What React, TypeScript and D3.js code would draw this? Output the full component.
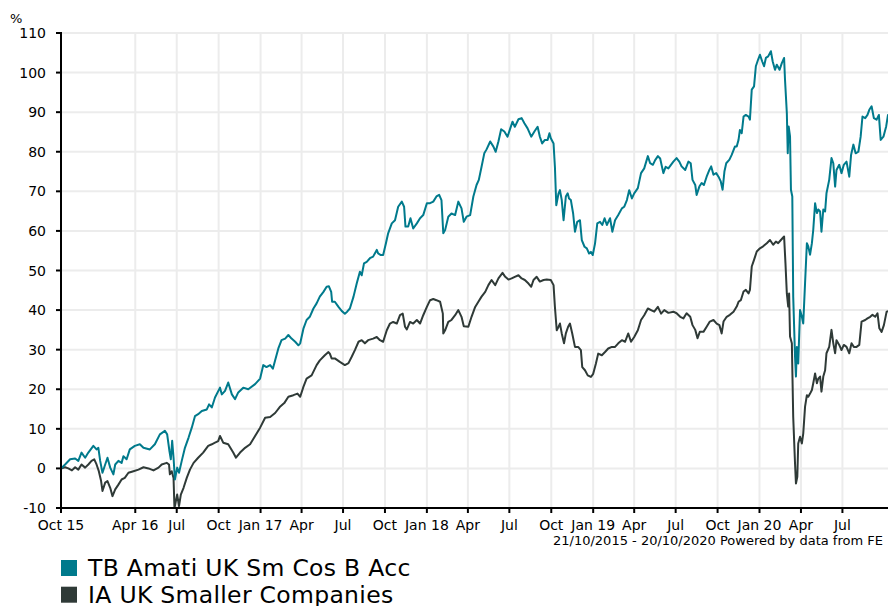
import * as React from 'react'
import * as d3 from 'd3'

const WIDTH = 888
const HEIGHT = 606
const PLOT_LEFT = 61
const PLOT_RIGHT = 893
const PLOT_TOP = 33
const PLOT_BOTTOM = 508
const FONT = '"DejaVu Sans", Verdana, sans-serif'

const FUND_COLOR = '#007a8c'
const SECTOR_COLOR = '#2f3a37'
const GRID_COLOR = '#ececec'

const startDate = new Date(2015, 9, 21)
const endDate = new Date(2020, 9, 20)

const seriesNames = ['TB Amati UK Sm Cos B Acc', 'IA UK Smaller Companies']

const yTicks = [-10, 0, 10, 20, 30, 40, 50, 60, 70, 80, 90, 100, 110]

const xTickDates = [
  '2015-10-21', '2016-04-01', '2016-07-01', '2016-10-01', '2017-01-01',
  '2017-04-01', '2017-07-01', '2017-10-01', '2018-01-01', '2018-04-01',
  '2018-07-01', '2018-10-01', '2019-01-01', '2019-04-01', '2019-07-01',
  '2019-10-01', '2020-01-01', '2020-04-01', '2020-07-01'
]
const xTickLabels = [
  'Oct 15', 'Apr 16', 'Jul', 'Oct', 'Jan 17', 'Apr', 'Jul', 'Oct', 'Jan 18',
  'Apr', 'Jul', 'Oct', 'Jan 19', 'Apr', 'Jul', 'Oct', 'Jan 20', 'Apr', 'Jul'
]

// days since 21/10/2015, cumulative % growth
const fundDays = [
  0, 9, 20, 31, 38, 45, 53, 60, 71, 78, 82, 86, 91, 97, 102, 108, 115, 119,
  126, 133, 137, 144, 151, 162, 173, 181, 195, 206, 217, 228, 233, 238, 241,
  244, 247, 250, 255, 259, 265, 272, 280, 287, 294, 301, 309, 320, 325, 331,
  338, 349, 353, 360, 367, 375, 382, 389, 400, 411, 426, 437, 444, 451, 459,
  465, 470, 477, 484, 492, 499, 506, 514, 521, 525, 532, 539, 546, 554, 561,
  568, 576, 583, 588, 593, 595, 601, 609, 616, 623, 628, 634, 642, 649, 656,
  660, 665, 671, 678, 685, 693, 696, 702, 707, 713, 718, 726, 733, 740, 748,
  753, 756, 762, 767, 773, 781, 788, 795, 803, 810, 817, 824, 830, 835, 839,
  843, 850, 857, 865, 872, 879, 884, 890, 898, 905, 912, 917, 923, 929, 934,
  942, 949, 954, 960, 966, 973, 980, 986, 991, 996, 1004, 1011, 1017, 1024,
  1032, 1039, 1046, 1051, 1056, 1062, 1068, 1072, 1075, 1081, 1084, 1087,
  1092, 1095, 1099, 1103, 1108, 1112, 1115, 1119, 1124, 1128, 1133, 1139,
  1143, 1149, 1154, 1159, 1163, 1167, 1172, 1177, 1183, 1188, 1193, 1198,
  1205, 1210, 1216, 1223, 1231, 1236, 1242, 1247, 1253, 1258, 1266, 1273,
  1280, 1288, 1293, 1299, 1304, 1310, 1315, 1322, 1327, 1333, 1344, 1351,
  1357, 1362, 1370, 1377, 1382, 1386, 1392, 1395, 1401, 1406, 1411, 1417,
  1423, 1427, 1432, 1438, 1443, 1448, 1452, 1456, 1460, 1467, 1472, 1479,
  1483, 1487, 1490, 1494, 1498, 1503, 1509, 1512, 1516, 1521, 1525, 1530,
  1534, 1539, 1543, 1547, 1552, 1558, 1562, 1567, 1571, 1577, 1582, 1587,
  1589, 1593, 1595, 1597, 1600, 1602, 1605, 1607, 1611, 1613, 1615, 1618,
  1622, 1626, 1629, 1633, 1637, 1640, 1644, 1648, 1651, 1655, 1659, 1662,
  1666, 1669, 1673, 1677, 1680, 1686, 1691, 1695, 1699, 1702, 1708, 1713,
  1718, 1724, 1730, 1734, 1739, 1744, 1750, 1755, 1759, 1765, 1770, 1774,
  1779, 1784, 1790, 1795, 1799, 1805, 1811, 1815, 1826
]
const fundValues = [
  0, 1, 2.3, 2.5, 1.9, 4, 2.7, 4, 5.7, 4.8, 5.2, 1.9, -1.1, 1, 2.7, 0.2, -1.5,
  1, 1.9, 1.4, 3.1, 2.3, 4.8, 5.7, 6.1, 5.2, 4.8, 6.1, 8.6, 9.5, 8.6, 4.4, 2.3,
  7, 2.7, -2.8, 0.2, -1.1, 1.9, 5.2, 7.8, 10.3, 13.2, 13.7, 14.5, 14.9, 16.2,
  15.4, 17.9, 20.4, 18.7, 19.6, 21.7, 18.7, 17.5, 19.2, 20.4, 20, 21.3, 22.7,
  26.1, 25.6, 26.1, 25.2, 27.3, 30.3, 32.4, 32.8, 33.7, 32.8, 32, 31.1, 31.6,
  35.3, 37.5, 38.3, 40.4, 41.7, 43.4, 44.6, 45.9, 46, 44.6, 42.1, 42.1, 40.8,
  39.8, 39.1, 39.6, 40.4, 43.4, 46.7, 49.7, 48.8, 51.8, 52.2, 53.1, 53.5, 55.2,
  54.3, 53.9, 53.9, 56.8, 59.4, 61.9, 62.7, 66.1, 67.4, 66.1, 61.1, 61.1, 63.2,
  60.6, 61.9, 63.2, 64, 67, 67, 67.4, 68.7, 69.1, 67.8, 59.4, 60.2, 63.6, 64.4,
  64, 67.4, 65.7, 62.3, 63.6, 64, 68.7, 71.6, 72.9, 76.2, 79.6, 80.6, 82.6,
  81.3, 80, 82.6, 85.7, 85.1, 83.8, 85.9, 87.6, 86.3, 88.2, 88.5, 87.2, 85.9,
  83.8, 85.1, 86.3, 83.8, 82.1, 83, 83, 84.7, 83.4, 82.1, 76.2, 66.5, 69.5,
  70.3, 67.8, 62.7, 68.7, 69.5, 68.2, 67.8, 64.4, 59.8, 62.3, 62.7, 57.7, 56,
  55.6, 54.3, 54.7, 53.9, 56.8, 61.9, 62.3, 61.5, 63.2, 61.5, 63.2, 59.8, 62.7,
  64, 65.7, 66.1, 67.8, 70.3, 68.2, 69.5, 70.8, 74.6, 75.8, 78.9, 77.1, 76.7,
  77.9, 78.9, 78.3, 74.6, 76.2, 75.8, 77.5, 78.4, 77.5, 76.3, 75.4, 77.5, 77.1,
  72.9, 71.6, 69.1, 71.2, 72.1, 71.6, 73.7, 75.4, 76.3, 74.2, 74.6, 73.7, 72.5,
  70.4, 75, 77.1, 78, 79.2, 81.3, 81.3, 83, 85.5, 84.7, 88.9, 89.3, 88.9, 88.1,
  95.7, 96.5, 101.6, 103.3, 104.5, 102.8, 101.6, 103.7, 104.1, 105.4, 102.8,
  100.7, 102, 100.7, 102.4, 103.7, 98.2, 89.8, 79.6, 86.4, 83.9, 70.4, 68.7,
  43.4, 28.2, 23.2, 30.7, 26.5, 40, 38.3, 36.6, 46.8, 56.9, 56.1, 54, 56.9,
  60.3, 67, 64.5, 65.4, 64.9, 59.8, 65.4, 64.9, 69.5, 72.9, 78.4, 77.1, 71.2,
  75.4, 76.7, 74.6, 76.7, 77.5, 73.7, 79.2, 81.8, 79.6, 80, 83.8, 88.9, 88.5,
  89.3, 90.6, 91.5, 88.5, 88.1, 89.3, 83, 83.8, 86.4, 89.3, 89
]

const sectorDays = [
  0, 9, 16, 24, 31, 38, 45, 53, 60, 67, 73, 78, 83, 88, 91, 97, 102, 108, 113,
  119, 126, 133, 140, 148, 159, 170, 181, 192, 203, 214, 221, 232, 237, 239,
  243, 247, 249, 252, 255, 259, 263, 269, 276, 283, 291, 301, 312, 323, 331,
  338, 345, 349, 356, 367, 378, 384, 393, 404, 415, 426, 437, 448, 459, 470,
  480, 490, 499, 510, 519, 525, 532, 539, 550, 561, 568, 579, 587, 590, 594,
  601, 612, 623, 631, 638, 645, 653, 660, 667, 674, 685, 693, 700, 707, 715,
  722, 729, 737, 744, 750, 755, 759, 766, 773, 781, 788, 795, 803, 810, 817,
  824, 832, 838, 839, 843, 850, 857, 865, 872, 879, 884, 894, 901, 909, 916,
  923, 931, 938, 945, 953, 960, 969, 975, 982, 989, 996, 1004, 1011, 1018,
  1026, 1032, 1037, 1044, 1051, 1059, 1066, 1075, 1081, 1084, 1088, 1092,
  1095, 1099, 1104, 1108, 1113, 1117, 1122, 1128, 1135, 1141, 1144, 1150,
  1156, 1163, 1168, 1174, 1179, 1187, 1194, 1201, 1209, 1216, 1223, 1231,
  1238, 1245, 1251, 1258, 1266, 1273, 1280, 1288, 1295, 1302, 1310, 1317,
  1324, 1333, 1344, 1351, 1359, 1366, 1373, 1381, 1386, 1392, 1397, 1402,
  1410, 1417, 1424, 1432, 1439, 1445, 1450, 1454, 1461, 1468, 1476, 1483,
  1487, 1492, 1498, 1503, 1509, 1512, 1516, 1521, 1527, 1534, 1541, 1549,
  1556, 1563, 1569, 1574, 1580, 1587, 1590, 1593, 1596, 1598, 1600, 1604,
  1607, 1611, 1613, 1616, 1618, 1622, 1626, 1629, 1633, 1637, 1640, 1644,
  1648, 1651, 1655, 1659, 1662, 1666, 1669, 1673, 1677, 1680, 1686, 1691,
  1695, 1699, 1702, 1708, 1713, 1718, 1724, 1730, 1735, 1740, 1746, 1752,
  1757, 1765, 1770, 1776, 1781, 1787, 1792, 1796, 1801, 1806, 1812, 1826
]
const sectorValues = [
  0, 0.3, 0, -0.5, 0.3, -0.3, 1, 0.2, 1, 1.9, 2.3, 1, -0.7, -3.2, -5.7, -3.6,
  -3.2, -4.9, -7, -5.3, -4.1, -2.8, -2.4, -1.1, -0.7, -0.3, 0.3, 0, -0.5, 0.2,
  1, 1.4, 1, -1.5, -0.7, -2.4, -10, -8.3, -6.6, -9.5, -6.6, -4.9, -2.4, -0.3,
  1.4, 2.7, 4, 5.7, 6.1, 6.5, 6.9, 8.2, 6.5, 6.1, 4, 2.7, 4, 5.2, 6.1, 8.2,
  10.3, 12.8, 13, 14, 15.5, 16.5, 18.1, 18.5, 18.9, 18.1, 20.6, 22.7, 23.5,
  26.1, 27.3, 28.6, 29.4, 29, 27.8, 27.8, 26.9, 26.1, 26.6, 28.2, 29.9, 32,
  32.4, 31.6, 32.4, 32.8, 33.2, 32.4, 32, 34.9, 36.6, 37, 36.6, 38.7, 39.1,
  35.8, 35.1, 37, 36.6, 37.5, 36.6, 38.7, 40.8, 42.5, 42.8, 42.5, 42.1, 39.1,
  34.1, 34.9, 37, 37.5, 38.7, 40, 38.3, 35.9, 35.8, 38.3, 40.8, 42.1, 43.4,
  44.6, 46.3, 47.6, 46.3, 48, 49.4, 48.4, 47.7, 48, 48.4, 48.8, 48, 47.6, 46.7,
  45.9, 47.6, 48.4, 47.2, 47.6, 47.7, 47.6, 46.3, 40.8, 34.9, 35.8, 36.6, 34.1,
  31.6, 34.1, 35.8, 36.6, 34.1, 30.7, 30.7, 29.9, 25.6, 24.8, 23.5, 23.1, 23.9,
  26.5, 29, 28.6, 29.4, 30.3, 30.7, 30.7, 31.6, 32.4, 32, 34.1, 32, 33.2, 34.9,
  37.5, 38.7, 40.4, 40, 39.6, 40.8, 39.1, 40, 39.3, 39.6, 39.2, 38.3, 37.9,
  39.2, 38.3, 36.2, 35, 32.9, 34.5, 34.5, 35.8, 37.1, 37.5, 36.6, 36.2, 34.1,
  37.1, 38.3, 38.8, 39.6, 40.9, 42.1, 42.5, 44.7, 45.1, 44.2, 45.1, 51, 52.7,
  54.8, 55.6, 56.1, 56.9, 57.7, 56.5, 57.3, 56.9, 57.7, 58.6, 51.8, 44.2, 40.9,
  44.2, 33.3, 31.6, 13, 1.2, -3.8, -2.1, 6.3, 8, 6.3, 8.8, 15.6, 18.5, 18.1,
  18.9, 19.8, 21.5, 24, 21.5, 22.7, 23.2, 19.4, 23.2, 24.8, 29.1, 30.7, 35,
  31.6, 29.1, 32.4, 31.2, 29.9, 31.2, 30.7, 29.1, 31.6, 30.7, 30.7, 31.2, 37.1,
  37.5, 37.9, 38.3, 38.8, 38.3, 39.2, 35.4, 34.5, 36.2, 39.6, 40
]

interface Point {
  date: Date
  value: number
}

function toPoints(days: number[], values: number[]): Point[] {
  return days.map((d, i) => ({
    date: d3.timeDay.offset(startDate, d),
    value: values[i]
  }))
}

export default function App() {
  const x = d3
    .scaleTime()
    .domain([startDate, endDate])
    .range([PLOT_LEFT, PLOT_RIGHT])
  const y = d3.scaleLinear().domain([-10, 110]).range([PLOT_BOTTOM, PLOT_TOP])
  const parse = d3.timeParse('%Y-%m-%d')
  const tickDates = xTickDates.map(s => parse(s) as Date)

  const line = d3
    .line<Point>()
    .x(d => x(d.date))
    .y(d => y(d.value))

  const fund = toPoints(fundDays, fundValues)
  const sector = toPoints(sectorDays, sectorValues)
  const colors = [FUND_COLOR, SECTOR_COLOR]

  return (
    <svg
      width={WIDTH}
      height={HEIGHT}
      style={{ position: 'absolute', left: 0, top: 0, background: '#fff' }}
      fontFamily={FONT}
    >
      <rect width={WIDTH} height={HEIGHT} fill="#fff" />
      {/* grid */}
      <g stroke={GRID_COLOR} strokeWidth={2}>
        {yTicks.slice(1).map(t => (
          <line key={t} x1={PLOT_LEFT} x2={WIDTH} y1={y(t)} y2={y(t)} />
        ))}
        {tickDates.slice(1).map((d, i) => (
          <line key={i} x1={x(d)} x2={x(d)} y1={y(110)} y2={PLOT_BOTTOM} />
        ))}
      </g>
      {/* series */}
      <path
        d={line(sector) || ''}
        fill="none"
        stroke={SECTOR_COLOR}
        strokeWidth={2}
        strokeLinejoin="round"
      />
      <path
        d={line(fund) || ''}
        fill="none"
        stroke={FUND_COLOR}
        strokeWidth={2}
        strokeLinejoin="round"
      />
      {/* axes */}
      <g stroke="#000" strokeWidth={2}>
        <line x1={PLOT_LEFT} x2={PLOT_LEFT} y1={y(110) - 1} y2={PLOT_BOTTOM + 1} />
        <line x1={PLOT_LEFT - 1} x2={WIDTH} y1={PLOT_BOTTOM} y2={PLOT_BOTTOM} />
        {yTicks.map(t => (
          <line key={t} x1={PLOT_LEFT - 5} x2={PLOT_LEFT} y1={y(t)} y2={y(t)} />
        ))}
        {tickDates.map((d, i) => (
          <line key={i} x1={x(d)} x2={x(d)} y1={PLOT_BOTTOM} y2={PLOT_BOTTOM + 5} />
        ))}
      </g>
      <g fontSize={14} fill="#000">
        {yTicks.map(t => (
          <text key={t} x={PLOT_LEFT - 15} y={y(t)} dy="0.36em" textAnchor="end">
            {t}
          </text>
        ))}
        {tickDates.map((d, i) => (
          <text key={i} x={x(d)} y={PLOT_BOTTOM + 22} textAnchor="middle">
            {xTickLabels[i]}
          </text>
        ))}
      </g>
      <text x={10} y={23} fontSize={13}>
        %
      </text>
      <text x={553} y={545} fontSize={13}>
        21/10/2015 - 20/10/2020 Powered by data from FE
      </text>
      {/* legend */}
      {seriesNames.map((name, i) => (
        <g key={name} transform={`translate(61,${560 + i * 26.7})`}>
          <rect width={16} height={16} fill={colors[i]} />
          <text x={27} y={16} fontSize={23.5} letterSpacing={0.3}>
            {name}
          </text>
        </g>
      ))}
    </svg>
  )
}
